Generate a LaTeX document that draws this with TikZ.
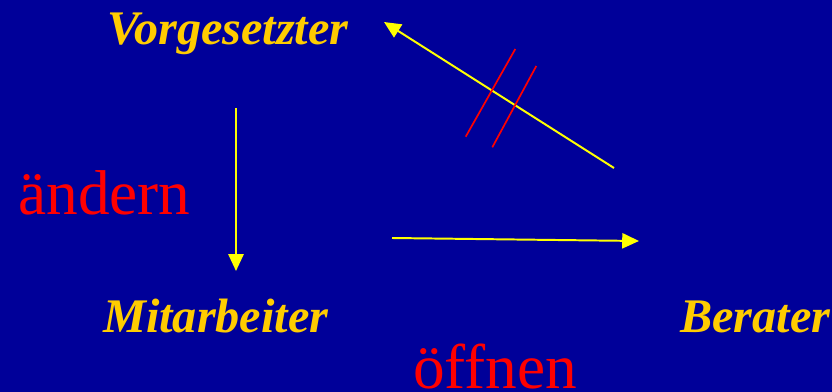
\documentclass[tikz,border=0pt]{standalone}
\usepackage{fontspec}
\setmainfont{Liberation Serif}
\usetikzlibrary{arrows.meta}
\definecolor{bgBlue}{HTML}{000099}
\definecolor{roleGold}{HTML}{FFCC00}
\definecolor{arrowYellow}{HTML}{FFFF00}
\definecolor{verbRed}{HTML}{FF0000}

\tikzset{
  role/.style={anchor=base west, inner sep=0pt, text=roleGold,
    font=\fontsize{34.3}{38}\selectfont\bfseries\itshape},
  verb/.style={anchor=base west, inner sep=0pt, text=verbRed,
    font=\fontsize{45}{50}\selectfont},
  link/.style={draw=arrowYellow, line width=1.4pt,
    -{Triangle[length=4.2mm, width=3.8mm]}},
  cut/.style={draw=verbRed, line width=1.2pt}
}

\begin{document}
\begin{tikzpicture}[x=0.025cm, y=-0.025cm]
    \fill[bgBlue] (0,0) rectangle (832,392);
    \useasboundingbox (0,0) rectangle (832,392);
    % roles
    \node[role] (boss) at (107,45) {Vorgesetzter};
    \node[role] (staff) at (103,332) {Mitarbeiter};
    \node[role] (advisor) at (680,332) {Berater};
    % verbs
    \node[verb] (change) at (18,215) {ändern};
    \node[verb] (open) at (413,388) {öffnen};
    % arrow ends
    \coordinate (bossDown) at (236,108);
    \coordinate (staffTop) at (236,271);
    \coordinate (staffRight) at (392,238);
    \coordinate (advisorLeft) at (639,241);
    \coordinate (advisorUp) at (614,168);
    \coordinate (bossRight) at (384,22);
    \draw[link] (bossDown) -- (staffTop);
    \draw[link] (staffRight) -- (advisorLeft);
    \draw[link] (advisorUp) -- (bossRight);
    % blocked
    \draw[cut] (465.7,136.7) -- (515.3,49);
    \draw[cut] (492.3,147.3) -- (536.3,66);
\end{tikzpicture}
\end{document}
